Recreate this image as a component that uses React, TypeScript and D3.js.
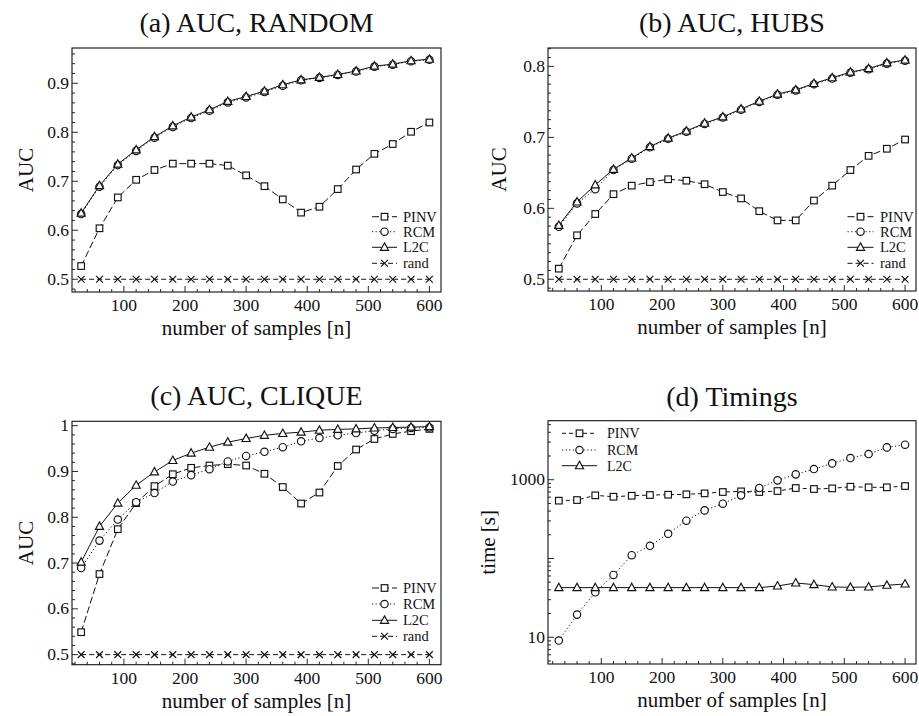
import React from "react";
import * as d3 from "d3";

const samples = [30, 60, 90, 120, 150, 180, 210, 240, 270, 300, 330, 360, 390, 420, 450, 480, 510, 540, 570, 600];

const aPINV = [0.527, 0.604, 0.667, 0.703, 0.723, 0.736, 0.736, 0.736, 0.732, 0.712, 0.690, 0.663, 0.636, 0.648, 0.684, 0.724, 0.756, 0.776, 0.801, 0.820];
const aRCM = [0.633, 0.689, 0.733, 0.762, 0.789, 0.811, 0.829, 0.844, 0.861, 0.871, 0.882, 0.895, 0.906, 0.911, 0.917, 0.924, 0.934, 0.938, 0.945, 0.948];
const aL2C = [0.635, 0.691, 0.735, 0.764, 0.791, 0.813, 0.831, 0.846, 0.863, 0.873, 0.884, 0.897, 0.907, 0.912, 0.918, 0.925, 0.935, 0.939, 0.946, 0.949];

const bPINV = [0.515, 0.562, 0.592, 0.620, 0.632, 0.637, 0.641, 0.639, 0.634, 0.623, 0.614, 0.596, 0.583, 0.583, 0.611, 0.632, 0.654, 0.674, 0.684, 0.697];
const bRCM = [0.574, 0.607, 0.627, 0.654, 0.670, 0.686, 0.698, 0.708, 0.719, 0.728, 0.739, 0.750, 0.760, 0.766, 0.775, 0.783, 0.791, 0.796, 0.804, 0.808];
const bL2C = [0.576, 0.609, 0.633, 0.655, 0.671, 0.687, 0.699, 0.709, 0.720, 0.729, 0.740, 0.751, 0.761, 0.767, 0.776, 0.784, 0.792, 0.797, 0.805, 0.809];

const cPINV = [0.549, 0.676, 0.774, 0.831, 0.868, 0.894, 0.908, 0.913, 0.916, 0.913, 0.895, 0.866, 0.830, 0.854, 0.912, 0.948, 0.971, 0.982, 0.988, 0.993];
const cRCM = [0.689, 0.749, 0.795, 0.833, 0.853, 0.878, 0.892, 0.905, 0.922, 0.934, 0.943, 0.953, 0.966, 0.973, 0.979, 0.984, 0.989, 0.993, 0.995, 0.996];
const cL2C = [0.702, 0.780, 0.831, 0.870, 0.899, 0.924, 0.940, 0.953, 0.964, 0.972, 0.979, 0.983, 0.986, 0.990, 0.992, 0.993, 0.995, 0.996, 0.997, 0.998];

const randAUC = [0.5, 0.5, 0.5, 0.5, 0.5, 0.5, 0.5, 0.5, 0.5, 0.5, 0.5, 0.5, 0.5, 0.5, 0.5, 0.5, 0.5, 0.5, 0.5, 0.5];

const dPINV = [542, 552, 633, 608, 626, 639, 645, 652, 671, 698, 711, 698, 718, 784, 762, 776, 815, 800, 800, 831];
const dRCM = [9.1, 19.4, 37.2, 61.8, 110, 145, 206, 302, 408, 496, 633, 784, 981, 1169, 1366, 1611, 1884, 2118, 2571, 2781];
const dL2C = [42.7, 42.7, 42.7, 42.7, 42.7, 42.7, 42.7, 42.7, 42.7, 42.7, 42.7, 42.7, 44.8, 48.9, 46.6, 43.5, 43.1, 43.5, 45.7, 47.5];

const xMajorTicks = [100, 200, 300, 400, 500, 600];
const aYTicks = [0.5, 0.6, 0.7, 0.8, 0.9];
const bYTicks = [0.5, 0.6, 0.7, 0.8];
const cYTicks = [0.5, 0.6, 0.7, 0.8, 0.9, 1];
const dYTicks = [10, 100, 1000];
const dYLabels = ["10", "", "1000"];

const FONT = "'Liberation Serif', 'Times New Roman', serif";

type Marker = "square" | "circle" | "triangle" | "cross";
interface Series { name: string; values: number[]; marker: Marker; dash: string | null; }

function MarkerShape({ type, x, y }: { type: Marker; x: number; y: number }) {
  const sw = 1.15;
  if (type === "square")
    return <rect x={x - 3.3} y={y - 3.3} width={6.6} height={6.6} fill="white" stroke="#111" strokeWidth={sw} />;
  if (type === "circle")
    return <circle cx={x} cy={y} r={3.7} fill="white" stroke="#111" strokeWidth={sw} />;
  if (type === "triangle")
    return <polygon points={`${x},${y - 4.4} ${x + 4.1},${y + 3} ${x - 4.1},${y + 3}`} fill="white" stroke="#111" strokeWidth={sw} strokeLinejoin="miter" />;
  return (
    <g stroke="#111" strokeWidth={sw}>
      <line x1={x - 3.4} y1={y - 3.4} x2={x + 3.4} y2={y + 3.4} />
      <line x1={x - 3.4} y1={y + 3.4} x2={x + 3.4} y2={y - 3.4} />
    </g>
  );
}

interface PanelProps {
  left: number; top: number; right: number; bottom: number;
  xDomain: [number, number]; yDomain: [number, number]; log?: boolean;
  yTicks: number[]; yLabels: string[]; yMinorStep?: number;
  title: string; titleY: number; ylabel: string; ylabelX: number;
  series: Series[];
  legend: { lineX0: number; lineX1: number; textX: number; rowY: number[]; fontSize: number };
}

function Panel(p: PanelProps) {
  const x = d3.scaleLinear().domain(p.xDomain).range([p.left, p.right]);
  const y = p.log
    ? d3.scaleLog().domain(p.yDomain).range([p.bottom, p.top])
    : d3.scaleLinear().domain(p.yDomain).range([p.bottom, p.top]);

  const xMinor = d3.range(20, p.xDomain[1], 20).filter((v) => v >= p.xDomain[0] && v % 100 !== 0);
  let yMinor: number[] = [];
  if (p.log) {
    const [lo, hi] = p.yDomain;
    for (let e = 0; e <= 4; e++) {
      for (let m = 2; m <= 9; m++) {
        const v = m * Math.pow(10, e);
        if (v >= lo && v <= hi) yMinor.push(v);
      }
    }
  } else if (p.yMinorStep) {
    const s = p.yMinorStep;
    const start = Math.ceil(p.yDomain[0] / s - 1e-6) * s;
    for (let v = start; v <= p.yDomain[1] + 1e-9; v += s) {
      const isMajor = p.yTicks.some((t) => Math.abs(t - v) < 1e-6);
      if (!isMajor) yMinor.push(v);
    }
  }

  const line = d3.line<number>().x((_, i) => x(samples[i])).y((d) => y(d));
  const cx = (p.left + p.right) / 2;
  const cy = (p.top + p.bottom) / 2;

  return (
    <g fontFamily={FONT} fill="#111">
      <text x={cx} y={p.titleY} textAnchor="middle" fontSize={28}>{p.title}</text>
      <g stroke="#111" strokeWidth={0.9}>
        {xMajorTicks.map((t) => <line key={"xM" + t} x1={x(t)} x2={x(t)} y1={p.bottom} y2={p.bottom - 6} />)}
        {xMinor.map((t) => <line key={"xm" + t} x1={x(t)} x2={x(t)} y1={p.bottom} y2={p.bottom - 3} />)}
        {p.yTicks.map((t) => <line key={"yM" + t} x1={p.left} x2={p.left + 6} y1={y(t)} y2={y(t)} />)}
        {yMinor.map((t, i) => <line key={"ym" + i} x1={p.left} x2={p.left + 3} y1={y(t)} y2={y(t)} />)}
      </g>
      {xMajorTicks.map((t) => (
        <text key={"xl" + t} x={x(t)} y={p.bottom + 19} textAnchor="middle" fontSize={17.5}>{t}</text>
      ))}
      {p.yTicks.map((t, i) => (
        <text key={"yl" + t} x={p.left - 3} y={y(t) + 5.5} textAnchor="end" fontSize={17.5}>{p.yLabels[i]}</text>
      ))}
      <text x={cx} y={p.bottom + 43} textAnchor="middle" fontSize={21}>number of samples [n]</text>
      <text transform={`translate(${p.ylabelX},${cy}) rotate(-90)`} textAnchor="middle" fontSize={21}>{p.ylabel}</text>
      {p.series.map((s) => (
        <path key={"l" + s.name} d={line(s.values) || ""} fill="none" stroke="#111" strokeWidth={1}
          strokeDasharray={s.dash || undefined} />
      ))}
      {p.series.map((s) => (
        <g key={"m" + s.name}>
          {s.values.map((v, i) => <MarkerShape key={i} type={s.marker} x={x(samples[i])} y={y(v)} />)}
        </g>
      ))}
      {p.series.map((s, i) => {
        const ly = p.legend.rowY[i];
        const mx = (p.legend.lineX0 + p.legend.lineX1) / 2;
        return (
          <g key={"lg" + s.name}>
            <line x1={p.legend.lineX0} x2={p.legend.lineX1} y1={ly} y2={ly} stroke="#111" strokeWidth={1}
              strokeDasharray={s.dash || undefined} />
            <MarkerShape type={s.marker} x={mx} y={ly} />
            <text x={p.legend.textX} y={ly + 5} fontSize={p.legend.fontSize}>{s.name}</text>
          </g>
        );
      })}
      <rect x={p.left} y={p.top} width={p.right - p.left} height={p.bottom - p.top} fill="none" stroke="#111" strokeWidth={1.1} />
    </g>
  );
}

const dashPINV = "7,3";
const dotRCM = "1.2,2.4";
const dashRand = "5,3";

export default function App() {
  const aucSeries = (pinv: number[], rcm: number[], l2c: number[]): Series[] => [
    { name: "PINV", values: pinv, marker: "square", dash: dashPINV },
    { name: "RCM", values: rcm, marker: "circle", dash: dotRCM },
    { name: "L2C", values: l2c, marker: "triangle", dash: null },
    { name: "rand", values: randAUC, marker: "cross", dash: dashRand },
  ];
  const lgA = { lineX0: 372, lineX1: 397, textX: 403, rowY: [216.7, 231.7, 247.3, 263.3], fontSize: 14.5 };
  const lgB = { lineX0: 847.5, lineX1: 873.5, textX: 880, rowY: [216.7, 231.7, 247.3, 263.3], fontSize: 14.5 };
  const lgC = { lineX0: 372, lineX1: 397, textX: 403, rowY: [588, 604, 620.3, 636.3], fontSize: 14.5 };
  const lgD = { lineX0: 562, lineX1: 597, textX: 607, rowY: [433.3, 450, 465.7], fontSize: 14 };
  return (
    <svg width={919} height={716} style={{ position: "absolute", left: 0, top: 0, background: "white" }}>
      <rect width={919} height={716} fill="white" />
      <Panel left={72} top={48} right={441} bottom={292} xDomain={[15, 619]} yDomain={[0.474, 0.972]}
        yTicks={aYTicks} yLabels={aYTicks.map((t) => String(t))} yMinorStep={0.02}
        title="(a) AUC, RANDOM" titleY={32} ylabel="AUC" ylabelX={33}
        series={aucSeries(aPINV, aRCM, aL2C)} legend={lgA} />
      <Panel left={548} top={48} right={916} bottom={291} xDomain={[12.2, 618]} yDomain={[0.4835, 0.826]}
        yTicks={bYTicks} yLabels={bYTicks.map((t) => String(t))} yMinorStep={0.0125}
        title="(b) AUC, HUBS" titleY={32} ylabel="AUC" ylabelX={505.5}
        series={aucSeries(bPINV, bRCM, bL2C)} legend={lgB} />
      <Panel left={72} top={421.3} right={441} bottom={664.7} xDomain={[15, 619]} yDomain={[0.478, 1.0096]}
        yTicks={cYTicks} yLabels={cYTicks.map((t) => String(t))} yMinorStep={0.02}
        title="(c) AUC, CLIQUE" titleY={405} ylabel="AUC" ylabelX={33}
        series={aucSeries(cPINV, cRCM, cL2C)} legend={lgC} />
      <Panel left={548} top={420.7} right={916} bottom={664} xDomain={[12.2, 618]} yDomain={[4.58, 5610]} log
        yTicks={dYTicks} yLabels={dYLabels}
        title="(d) Timings" titleY={406} ylabel="time [s]" ylabelX={495}
        series={[
          { name: "PINV", values: dPINV, marker: "square", dash: "4,3" },
          { name: "RCM", values: dRCM, marker: "circle", dash: dotRCM },
          { name: "L2C", values: dL2C, marker: "triangle", dash: null },
        ]} legend={lgD} />
    </svg>
  );
}
